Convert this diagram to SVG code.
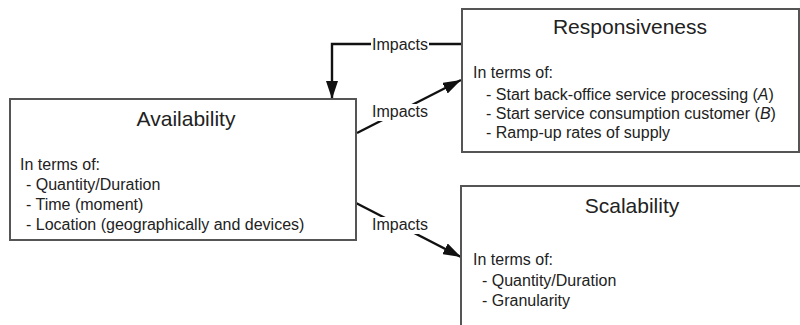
<svg xmlns="http://www.w3.org/2000/svg" width="800" height="325" viewBox="0 0 800 325">
<defs>
<marker id="arr" markerUnits="userSpaceOnUse" markerWidth="20" markerHeight="12" refX="18" refY="6" orient="auto">
<path d="M0,0 L18,6 L0,12 Z" fill="#111"/>
</marker>
<style>
.box{fill:#fff;stroke:#555;stroke-width:2}
.title{font-family:"Liberation Sans",Arial,sans-serif;font-size:21px;fill:#222;text-anchor:middle}
.txt{font-family:"Liberation Sans",Arial,sans-serif;font-size:16px;fill:#222}
.lbl{font-family:"Liberation Sans",Arial,sans-serif;font-size:16px;fill:#222;text-anchor:middle}
.edge{fill:none;stroke:#111;stroke-width:2.4}
.lblbg{fill:#fff}
</style>
</defs>
<rect width="800" height="325" fill="#fff"/>
<g id="connectors">
<path class="edge" d="M462,44 H332 V99" marker-end="url(#arr)"/>
<path class="edge" d="M357,133 L461,80" marker-end="url(#arr)"/>
<path class="edge" d="M356,203 L461,257" marker-end="url(#arr)"/>
<rect class="lblbg" x="371" y="36" width="58" height="17"/>
<text class="lbl" x="400" y="49.5">Impacts</text>
<rect class="lblbg" x="371" y="104" width="58" height="17"/>
<text class="lbl" x="400" y="117">Impacts</text>
<rect class="lblbg" x="371" y="217" width="58" height="17"/>
<text class="lbl" x="400" y="229.5">Impacts</text>
</g>
<g id="availability">
<rect class="box" x="10" y="99" width="346" height="141"/>
<text class="title" x="186" y="126">Availability</text>
<text class="txt" x="20" y="170">In terms of:</text>
<text class="txt" x="26" y="189.5">- Quantity/Duration</text>
<text class="txt" x="26" y="209.5">- Time (moment)</text>
<text class="txt" x="26" y="229.5">- Location (geographically and devices)</text>
</g>
<g id="responsiveness">
<rect class="box" x="462" y="9" width="337" height="143"/>
<text class="title" x="630" y="34">Responsiveness</text>
<text class="txt" x="473" y="78">In terms of:</text>
<text class="txt" x="486" y="100">- Start back-office service processing (<tspan font-style="italic">A</tspan>)</text>
<text class="txt" x="486" y="119">- Start service consumption customer (<tspan font-style="italic">B</tspan>)</text>
<text class="txt" x="486" y="138">- Ramp-up rates of supply</text>
</g>
<g id="scalability">
<path class="box" d="M461,330 V186 H805"/>
<text class="title" x="632" y="213">Scalability</text>
<text class="txt" x="473" y="265">In terms of:</text>
<text class="txt" x="482" y="285.5">- Quantity/Duration</text>
<text class="txt" x="482" y="306">- Granularity</text>
</g>
</svg>
